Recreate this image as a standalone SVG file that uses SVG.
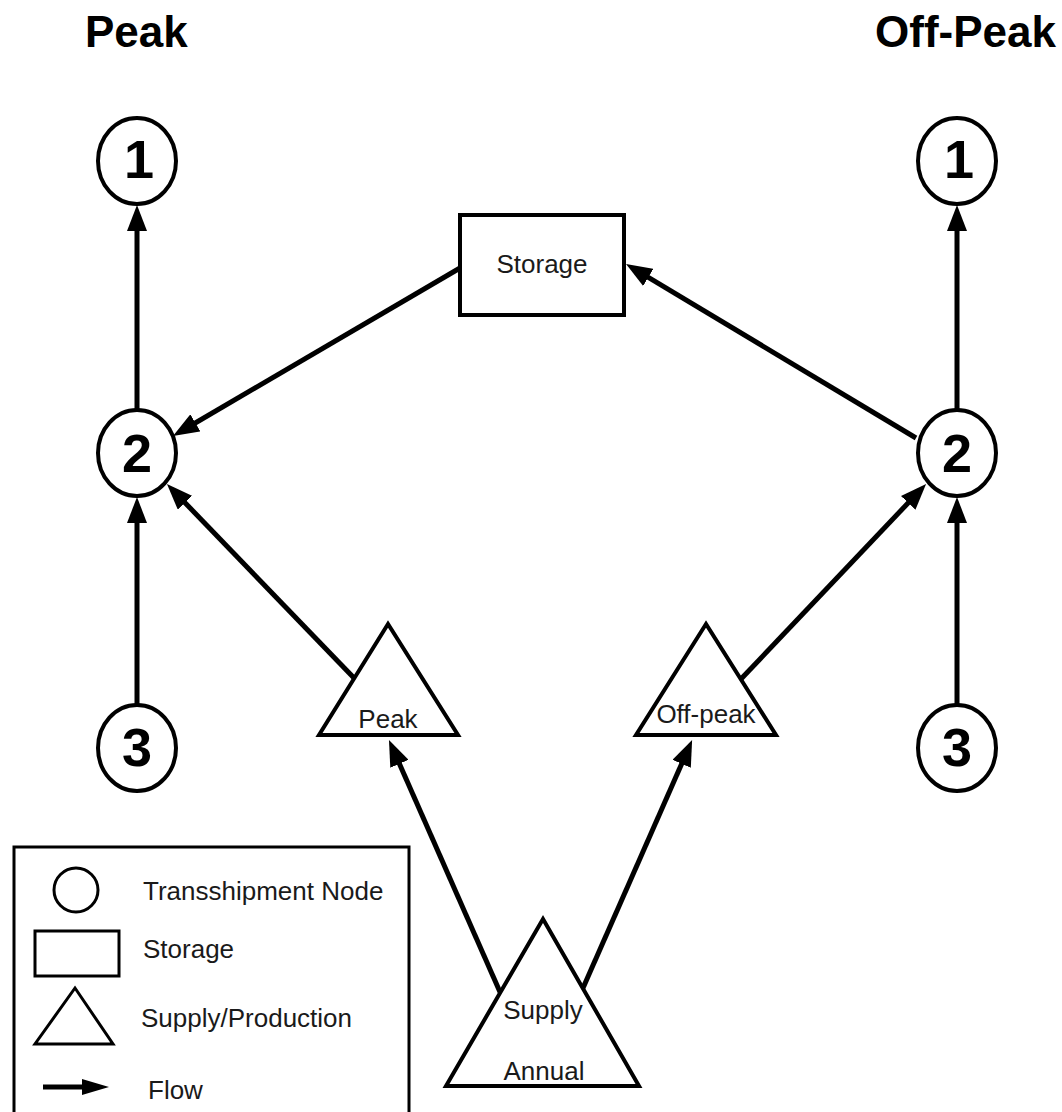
<svg xmlns="http://www.w3.org/2000/svg" width="1062" height="1112" viewBox="0 0 1062 1112">
  <style>
    .node { fill: #ffffff; stroke: #000000; stroke-width: 4; }
    .num { font-family: "Liberation Sans", Arial, sans-serif; font-weight: bold; font-size: 54px; text-anchor: middle; fill: #000000; }
    .head { font-family: "Liberation Sans", Arial, sans-serif; font-weight: bold; font-size: 44px; fill: #000000; }
    .lbl { font-family: "Liberation Sans", Arial, sans-serif; font-size: 26px; fill: #1a1a1a; }
    .mid { text-anchor: middle; }
    .flow { stroke: #000000; stroke-width: 5; fill: none; marker-end: url(#arrow); }
  </style>
  <defs>
    <marker id="arrow" markerUnits="userSpaceOnUse" viewBox="0 0 26 20" markerWidth="26" markerHeight="20" refX="16" refY="10" orient="auto">
      <path d="M0,0 L26,10 L0,20 z" fill="#000000"/>
    </marker>
  </defs>
  <rect width="1062" height="1112" fill="#ffffff"/>

  <!-- column headings -->
  <text class="head" x="85" y="47">Peak</text>
  <text class="head" x="875" y="47">Off-Peak</text>

  <!-- peak transshipment nodes -->
  <g id="peak-1">
    <ellipse class="node" cx="137" cy="161" rx="39" ry="43"/>
    <text class="num" x="139" y="178">1</text>
  </g>
  <g id="peak-2">
    <ellipse class="node" cx="137" cy="453" rx="39" ry="43"/>
    <text class="num" x="137" y="472">2</text>
  </g>
  <g id="peak-3">
    <ellipse class="node" cx="137" cy="748" rx="39" ry="43"/>
    <text class="num" x="137" y="766">3</text>
  </g>

  <!-- off-peak transshipment nodes -->
  <g id="offpeak-1">
    <ellipse class="node" cx="957" cy="161" rx="39" ry="43"/>
    <text class="num" x="959" y="178">1</text>
  </g>
  <g id="offpeak-2">
    <ellipse class="node" cx="957" cy="453" rx="39" ry="43"/>
    <text class="num" x="957" y="472">2</text>
  </g>
  <g id="offpeak-3">
    <ellipse class="node" cx="957" cy="748" rx="39" ry="43"/>
    <text class="num" x="957" y="766">3</text>
  </g>

  <!-- storage -->
  <g id="storage">
    <rect class="node" x="460" y="215" width="164" height="100"/>
    <text class="lbl mid" x="542" y="273">Storage</text>
  </g>

  <!-- supply nodes -->
  <g id="supply-peak">
    <polygon class="node" points="388,624 319,735 458,735"/>
    <text class="lbl mid" x="388" y="728">Peak</text>
  </g>
  <g id="supply-offpeak">
    <polygon class="node" points="706,624 636,735 776,735"/>
    <text class="lbl mid" x="706" y="723">Off-peak</text>
  </g>
  <g id="supply-annual">
    <polygon class="node" points="543,919 446,1086 639,1086"/>
    <text class="lbl mid" x="543" y="1019">Supply</text>
    <text class="lbl mid" x="544" y="1080">Annual</text>
  </g>

  <!-- flows -->
  <g id="connectors">
    <line class="flow" x1="137" y1="410" x2="137" y2="215"/>
    <line class="flow" x1="137" y1="706" x2="137" y2="507"/>
    <line class="flow" x1="460" y1="268" x2="181.6" y2="431"/>
    <line class="flow" x1="354" y1="678" x2="173.9" y2="491.2"/>
    <line class="flow" x1="916" y1="438" x2="634.6" y2="269.1"/>
    <line class="flow" x1="957" y1="410" x2="957" y2="215"/>
    <line class="flow" x1="957" y1="706" x2="957" y2="507"/>
    <line class="flow" x1="741" y1="679" x2="919.2" y2="491.3"/>
    <line class="flow" x1="500" y1="992" x2="393" y2="749.2"/>
    <line class="flow" x1="583" y1="988" x2="688.1" y2="749.2"/>
  </g>

  <!-- legend -->
  <g id="legend">
    <rect x="14" y="847" width="395" height="280" fill="none" stroke="#000000" stroke-width="3"/>
    <circle cx="76" cy="890" r="22" fill="none" stroke="#000000" stroke-width="3"/>
    <text class="lbl" x="143" y="900">Transshipment Node</text>
    <rect x="35" y="931" width="84" height="45" fill="none" stroke="#000000" stroke-width="3"/>
    <text class="lbl" x="143" y="958">Storage</text>
    <polygon points="75,988 35,1044 113,1044" fill="none" stroke="#000000" stroke-width="3"/>
    <text class="lbl" x="141" y="1027">Supply/Production</text>
    <line x1="43" y1="1087" x2="86" y2="1087" stroke="#000000" stroke-width="5"/>
    <polygon points="82,1079 109,1087 82,1095" fill="#000000"/>
    <text class="lbl" x="148" y="1099">Flow</text>
  </g>
</svg>
